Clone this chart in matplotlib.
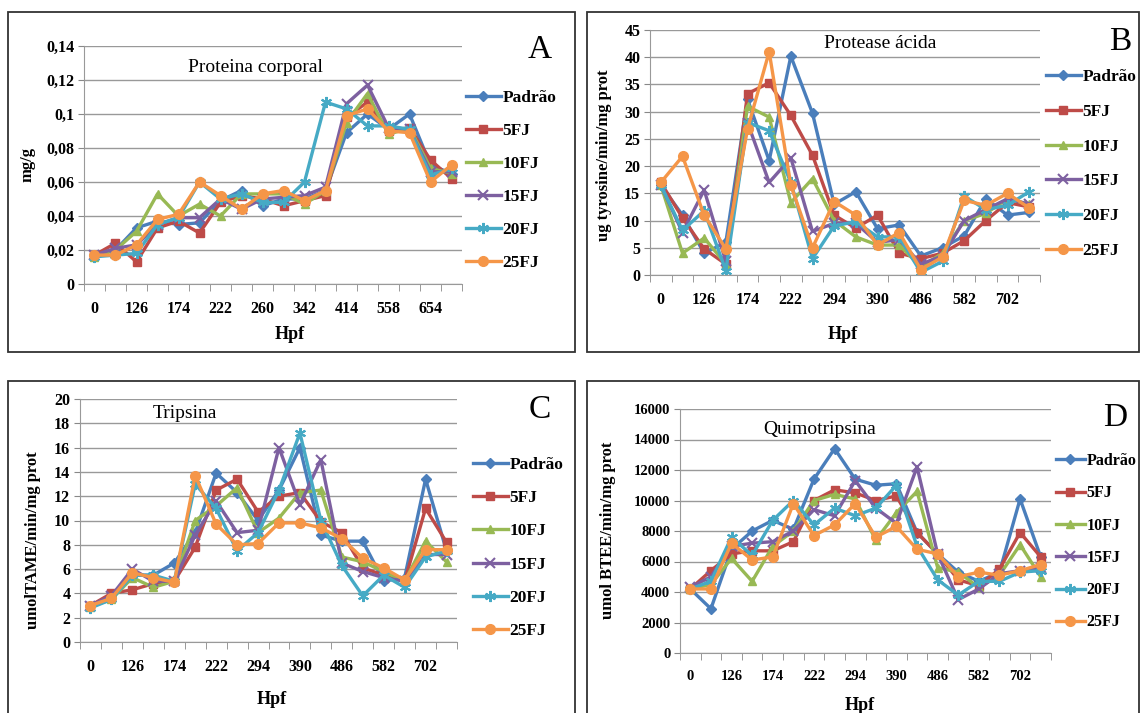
import numpy as np
import matplotlib
matplotlib.use("Agg")
import matplotlib.pyplot as plt
from matplotlib.patches import Rectangle
from matplotlib.ticker import FuncFormatter

W, H = 1140, 713

series_names = ["Padrão", "5FJ", "10FJ", "15FJ", "20FJ", "25FJ"]
colors = ["#4A7EBB", "#BE4B48", "#98B954", "#7D60A0", "#46AAC5", "#F59648"]
markers = ["D", "s", "^", "x", (6, 2, 0), "o"]
msizes = [5, 6, 6, 7, 8, 7]

hpf_A = ["0", "", "126", "", "174", "", "222", "", "260", "", "342", "", "414", "", "558", "", "654", ""]
hpf_BCD = ["0", "", "126", "", "174", "", "222", "", "294", "", "390", "", "486", "", "582", "", "702", ""]

# A - Proteina corporal (mg/g)
A_padrao = [0.017, 0.020, 0.033, 0.037, 0.035, 0.036, 0.049, 0.055, 0.046, 0.050, 0.050, 0.055, 0.089, 0.100, 0.091, 0.100, 0.070, 0.065]
A_5fj = [0.017, 0.024, 0.013, 0.033, 0.037, 0.030, 0.048, 0.052, 0.050, 0.046, 0.049, 0.052, 0.098, 0.107, 0.090, 0.092, 0.073, 0.062]
A_10fj = [0.016, 0.020, 0.031, 0.053, 0.040, 0.047, 0.040, 0.053, 0.053, 0.053, 0.047, 0.055, 0.095, 0.112, 0.088, 0.092, 0.068, 0.065]
A_15fj = [0.017, 0.021, 0.023, 0.035, 0.039, 0.039, 0.050, 0.044, 0.050, 0.051, 0.052, 0.057, 0.106, 0.117, 0.092, 0.091, 0.066, 0.066]
A_20fj = [0.016, 0.017, 0.018, 0.035, 0.039, 0.060, 0.050, 0.053, 0.048, 0.048, 0.060, 0.107, 0.103, 0.093, 0.093, 0.091, 0.064, 0.068]
A_25fj = [0.017, 0.017, 0.023, 0.038, 0.041, 0.060, 0.052, 0.044, 0.053, 0.055, 0.049, 0.055, 0.099, 0.103, 0.090, 0.089, 0.060, 0.070]

# B - Protease acida
B_padrao = [16.5, 11.0, 4.0, 6.0, 32.3, 21.0, 40.2, 29.7, 13.0, 15.3, 8.5, 9.2, 3.5, 5.0, 7.2, 14.0, 11.0, 11.5]
B_5fj = [17.0, 10.5, 4.8, 2.0, 33.3, 35.3, 29.3, 22.0, 11.0, 8.6, 11.0, 4.0, 3.0, 4.0, 6.3, 10.0, 13.3, 12.5]
B_10fj = [16.5, 4.0, 6.8, 2.0, 31.0, 29.0, 13.3, 17.7, 10.0, 7.0, 5.5, 5.5, 1.5, 4.0, 10.0, 11.3, 14.0, 13.0]
B_15fj = [16.5, 7.8, 15.6, 2.5, 28.0, 17.0, 21.5, 8.0, 9.5, 9.5, 6.0, 6.5, 2.0, 3.5, 10.0, 12.0, 14.0, 13.0]
B_20fj = [16.5, 8.2, 11.8, 0.8, 28.0, 26.5, 17.0, 3.0, 9.0, 9.8, 7.0, 7.0, 0.5, 2.5, 14.5, 12.0, 12.8, 15.3]
B_25fj = [17.0, 21.8, 11.0, 4.8, 26.8, 41.0, 16.5, 5.0, 13.5, 11.0, 5.5, 7.8, 1.0, 3.3, 13.7, 12.8, 15.0, 12.3]

# C - Tripsina
C_padrao = [3.0, 3.8, 5.5, 5.5, 6.5, 9.0, 13.9, 12.3, 10.0, 12.5, 16.0, 8.8, 8.3, 8.3, 5.0, 5.3, 13.4, 7.5]
C_5fj = [3.0, 4.0, 4.3, 4.8, 5.0, 7.8, 12.5, 13.4, 10.7, 12.0, 12.3, 9.9, 9.0, 6.1, 5.5, 5.0, 11.0, 8.2]
C_10fj = [2.9, 3.5, 5.3, 4.5, 5.0, 10.0, 11.2, 12.7, 9.0, 10.2, 12.3, 12.5, 7.0, 6.6, 5.8, 5.0, 8.3, 6.6]
C_15fj = [3.0, 3.8, 6.0, 5.0, 5.0, 8.8, 11.6, 9.0, 9.2, 16.0, 11.3, 15.0, 6.5, 5.8, 5.3, 5.0, 7.2, 7.2]
C_20fj = [2.8, 3.5, 5.5, 5.5, 5.0, 13.0, 11.0, 7.5, 9.0, 12.5, 17.2, 10.0, 6.3, 3.8, 5.5, 4.5, 7.0, 7.5]
C_25fj = [3.0, 3.6, 5.7, 5.3, 4.9, 13.7, 9.7, 8.0, 8.1, 9.8, 9.8, 9.4, 8.5, 6.9, 6.1, 5.1, 7.6, 7.6]

# D - Quimotripsina
D_padrao = [4200, 2900, 6800, 8000, 8700, 8100, 11400, 13400, 11400, 11000, 11100, 7900, 6500, 5300, 4700, 5300, 10100, 6300]
D_5fj = [4200, 5400, 6500, 6700, 6700, 7300, 10000, 10700, 10500, 10000, 10300, 7900, 6500, 4800, 4400, 5500, 7900, 6300]
D_10fj = [4200, 4500, 6200, 4700, 7000, 8000, 10000, 10400, 10100, 7400, 9200, 10600, 5600, 5300, 4300, 5100, 7100, 5000]
D_15fj = [4300, 5000, 7000, 7200, 7300, 8000, 9400, 9000, 11300, 9500, 8500, 12200, 6500, 3500, 4200, 5200, 5400, 5600]
D_20fj = [4200, 4700, 7600, 6400, 8700, 10000, 8400, 9500, 9000, 9500, 11000, 7000, 4800, 3800, 4700, 4700, 5300, 5400]
D_25fj = [4200, 4200, 7200, 6100, 6300, 9800, 7700, 8400, 9800, 7600, 8300, 6800, 6500, 5000, 5300, 5100, 5400, 5800]

plt.rcParams["font.family"] = ["Liberation Serif", "DejaVu Serif"]

fig = plt.figure(figsize=(W / 100, H / 100), dpi=100)
fig.patch.set_facecolor("white")


def fx(x):
    return x / W


def fy(y):
    return 1 - y / H


# panel boxes
for (x0, y0, x1, y1) in [(8, 12, 575, 352), (587, 12, 1139, 352), (8, 381, 575, 730), (587, 381, 1139, 730)]:
    fig.add_artist(Rectangle((fx(x0), fy(y1)), fx(x1) - fx(x0), fy(y0) - fy(y1),
                             transform=fig.transFigure, fill=False, edgecolor="#333333", lw=1.3))

panels = [
    dict(data=[A_padrao, A_5fj, A_10fj, A_15fj, A_20fj, A_25fj], labels=hpf_A,
         box=(84, 46, 462, 284), ymax=0.14, ystep=0.02, fmt="comma",
         title="Proteina corporal", tpos=(255, 68), letter="A", lpos=(540, 50),
         ylabel="mg/g", ylpos=(28, 165), hpf=(290, 335), leg=(466, 90), legsp=0.97, lfs=12.5, hl=2.0),
    dict(data=[B_padrao, B_5fj, B_10fj, B_15fj, B_20fj, B_25fj], labels=hpf_BCD,
         box=(650, 30, 1040, 275), ymax=45, ystep=5, fmt="int",
         title="Protease ácida", tpos=(880, 44), letter="B", lpos=(1120, 42),
         ylabel="ug tyrosine/min/mg prot", ylpos=(604, 155), hpf=(843, 335), leg=(1046, 69), legsp=1.07, lfs=12.5, hl=2.0),
    dict(data=[C_padrao, C_5fj, C_10fj, C_15fj, C_20fj, C_25fj], labels=hpf_BCD,
         box=(80, 399, 457, 642), ymax=20, ystep=2, fmt="int",
         title="Tripsina", tpos=(185, 414), letter="C", lpos=(540, 410),
         ylabel="umolTAME/min/mg prot", ylpos=(33, 540), hpf=(272, 700), leg=(473, 457), legsp=0.98, lfs=12.5, hl=2.0),
    dict(data=[D_padrao, D_5fj, D_10fj, D_15fj, D_20fj, D_25fj], labels=hpf_BCD,
         box=(680, 409, 1051, 653), ymax=16000, ystep=2000, fmt="int",
         title="Quimotripsina", tpos=(820, 430), letter="D", lpos=(1115, 418),
         ylabel="umol BTEE/min/mg prot", ylpos=(608, 530), hpf=(860, 706), leg=(1056, 453), legsp=1.02, lfs=11.5, hl=1.8),
]

for p in panels:
    x0, y0, x1, y1 = p["box"]
    ax = fig.add_axes([fx(x0), fy(y1), fx(x1) - fx(x0), fy(y0) - fy(y1)])
    n = len(p["labels"])
    xs = np.arange(n)
    for vals, name, c, m, ms in zip(p["data"], series_names, colors, markers, msizes):
        ax.plot(xs, vals, color=c, lw=2.4, marker=m, ms=ms, mec=c, mew=1.5 if m in ("x", (6, 2, 0)) else 1,
                label=name)
    ax.set_xlim(-0.5, n - 0.5)
    ax.set_ylim(0, p["ymax"])
    yt = np.arange(0, p["ymax"] + p["ystep"] / 2, p["ystep"])
    ax.set_yticks(yt)
    if p["fmt"] == "comma":
        ax.yaxis.set_major_formatter(FuncFormatter(lambda v, pos: ("%g" % round(v, 2)).replace(".", ",")))
    else:
        ax.yaxis.set_major_formatter(FuncFormatter(lambda v, pos: "%d" % round(v)))
    ax.set_xticks(xs)
    ax.set_xticklabels(p["labels"])
    ax.set_xticks(np.arange(-0.5, n, 1.0), minor=True)
    ax.tick_params(axis="x", which="major", length=0, pad=12)
    ax.tick_params(axis="x", which="minor", length=5, direction="out", color="#888888")
    ax.tick_params(axis="y", length=4, direction="out", color="#888888", pad=3)
    for lab in ax.get_xticklabels() + ax.get_yticklabels():
        lab.set_fontweight("bold")
        lab.set_fontsize(11.5 if p["ymax"] < 1000 else 10.5)
    ax.grid(axis="y", color="#999999", lw=1)
    ax.set_axisbelow(True)
    for s in ["top", "right"]:
        ax.spines[s].set_visible(False)
    ax.spines["left"].set_color("#999999")
    ax.spines["bottom"].set_color("#999999")

    fig.text(fx(p["tpos"][0]), fy(p["tpos"][1]), p["title"], fontsize=14, ha="center", va="center")
    fig.text(fx(p["lpos"][0]), fy(p["lpos"][1]), p["letter"], fontsize=24, ha="center", va="center")
    fig.text(fx(p["ylpos"][0]), fy(p["ylpos"][1]), p["ylabel"], fontsize=12, fontweight="bold",
             rotation=90, ha="center", va="center")
    fig.text(fx(p["hpf"][0]), fy(p["hpf"][1]), "Hpf", fontsize=13, fontweight="bold", ha="center", va="center")
    ax.legend(loc="upper left", bbox_to_anchor=(fx(p["leg"][0]), fy(p["leg"][1])),
              bbox_transform=fig.transFigure, frameon=False, handlelength=p["hl"], handletextpad=0.1,
              labelspacing=p["legsp"], borderaxespad=0, borderpad=0,
              prop=dict(family=["Liberation Serif"], weight="bold", size=p["lfs"]))

fig.savefig("out.png", dpi=100)
